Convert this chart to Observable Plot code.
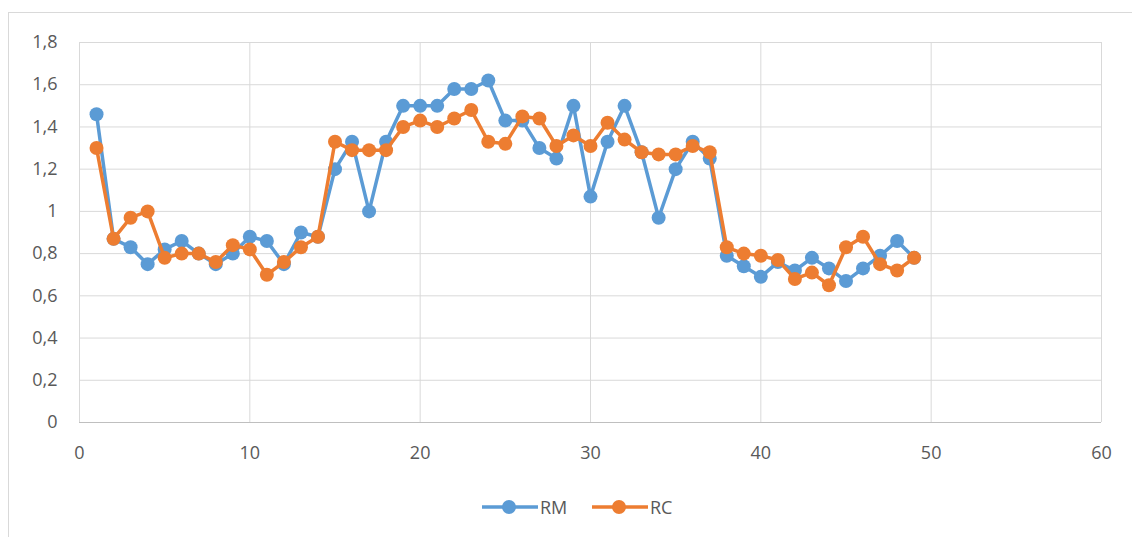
<!DOCTYPE html>
<html>
<head>
<meta charset="utf-8">
<script src="https://cdn.jsdelivr.net/npm/d3@7"></script>
<script src="https://cdn.jsdelivr.net/npm/@observablehq/plot@0.6"></script>
<style>
  html, body { margin: 0; padding: 0; background: #fff; }
  #wrap { position: relative; width: 1132px; height: 537px; overflow: hidden; font-family: "Open Sans", sans-serif; }
  #frame { position: absolute; left: 8px; top: 12px; width: 1130px; height: 540px; border: 1px solid #d9d9d9; box-sizing: border-box; }
  #chart { position: absolute; left: 0; top: 0; }
  #legend { position: absolute; top: 494px; left: 0; width: 1132px; height: 26px; }
  .item { position: absolute; top: 0; height: 26px; display: flex; align-items: center; font-size: 18px; color: #595959; }
  .item svg { margin-right: 2px; }
</style>
</head>
<body>
<div id="wrap">
  <div id="frame"></div>
  <div id="chart"></div>
  <div id="legend"></div>
</div>
<script>
const xValues = d3.range(1, 50);
const rmValues = [1.46, 0.87, 0.83, 0.75, 0.82, 0.86, 0.80, 0.75, 0.80, 0.88,
  0.86, 0.75, 0.90, 0.88, 1.20, 1.33, 1.00, 1.33, 1.50, 1.50,
  1.50, 1.58, 1.58, 1.62, 1.43, 1.43, 1.30, 1.25, 1.50, 1.07,
  1.33, 1.50, 1.28, 0.97, 1.20, 1.33, 1.25, 0.79, 0.74, 0.69,
  0.76, 0.72, 0.78, 0.73, 0.67, 0.73, 0.79, 0.86, 0.78];
const rcValues = [1.30, 0.87, 0.97, 1.00, 0.78, 0.80, 0.80, 0.76, 0.84, 0.82,
  0.70, 0.76, 0.83, 0.88, 1.33, 1.29, 1.29, 1.29, 1.40, 1.43,
  1.40, 1.44, 1.48, 1.33, 1.32, 1.45, 1.44, 1.31, 1.36, 1.31,
  1.42, 1.34, 1.28, 1.27, 1.27, 1.31, 1.28, 0.83, 0.80, 0.79,
  0.77, 0.68, 0.71, 0.65, 0.83, 0.88, 0.75, 0.72, 0.78];
const seriesNames = ["RM", "RC"];
const seriesColors = ["#5B9BD5", "#ED7D31"];
const xTicks = [0, 10, 20, 30, 40, 50, 60];
const yTicks = [0, 0.2, 0.4, 0.6, 0.8, 1, 1.2, 1.4, 1.6, 1.8];

const rm = xValues.map((x, i) => ({x, y: rmValues[i]}));
const rc = xValues.map((x, i) => ({x, y: rcValues[i]}));
const fmt = d => String(d).replace(".", ",");

const chart = Plot.plot({
  width: 1132,
  height: 537,
  marginLeft: 79,
  marginRight: 31,
  marginTop: 42,
  marginBottom: 115,
  style: {fontFamily: "'Open Sans', sans-serif", fontSize: "18px", color: "#595959", background: "transparent"},
  x: {domain: [0, 60]},
  y: {domain: [0, 1.8]},
  marks: [
    Plot.gridX(xTicks, {stroke: "#d9d9d9", strokeOpacity: 1, strokeWidth: 1}),
    Plot.gridY(yTicks, {stroke: "#d9d9d9", strokeOpacity: 1, strokeWidth: 1}),
    Plot.ruleY([0], {stroke: "#bfbfbf", strokeWidth: 1.2}),
    Plot.axisX(xTicks, {tickSize: 0, tickPadding: 24, fill: "#595959", fontSize: 18, tickFormat: fmt, label: null}),
    Plot.axisY(yTicks, {tickSize: 0, tickPadding: 22, fill: "#595959", fontSize: 18, tickFormat: fmt, label: null}),
    Plot.line(rm, {x: "x", y: "y", stroke: seriesColors[0], strokeWidth: 3.5}),
    Plot.dot(rm, {x: "x", y: "y", r: 7, fill: seriesColors[0], stroke: null}),
    Plot.line(rc, {x: "x", y: "y", stroke: seriesColors[1], strokeWidth: 3.5}),
    Plot.dot(rc, {x: "x", y: "y", r: 7, fill: seriesColors[1], stroke: null})
  ]
});
document.getElementById("chart").appendChild(chart);

const legend = document.getElementById("legend");
const legendLeft = [482, 592];
seriesNames.forEach((name, i) => {
  const item = document.createElement("div");
  item.className = "item";
  item.style.left = legendLeft[i] + "px";
  item.innerHTML = `<svg width="56" height="26"><line x1="0" x2="56" y1="13" y2="13" stroke="${seriesColors[i]}" stroke-width="3.5"/><circle cx="27" cy="13" r="7" fill="${seriesColors[i]}"/></svg><span>${name}</span>`;
  legend.appendChild(item);
});
</script>
</body>
</html>
